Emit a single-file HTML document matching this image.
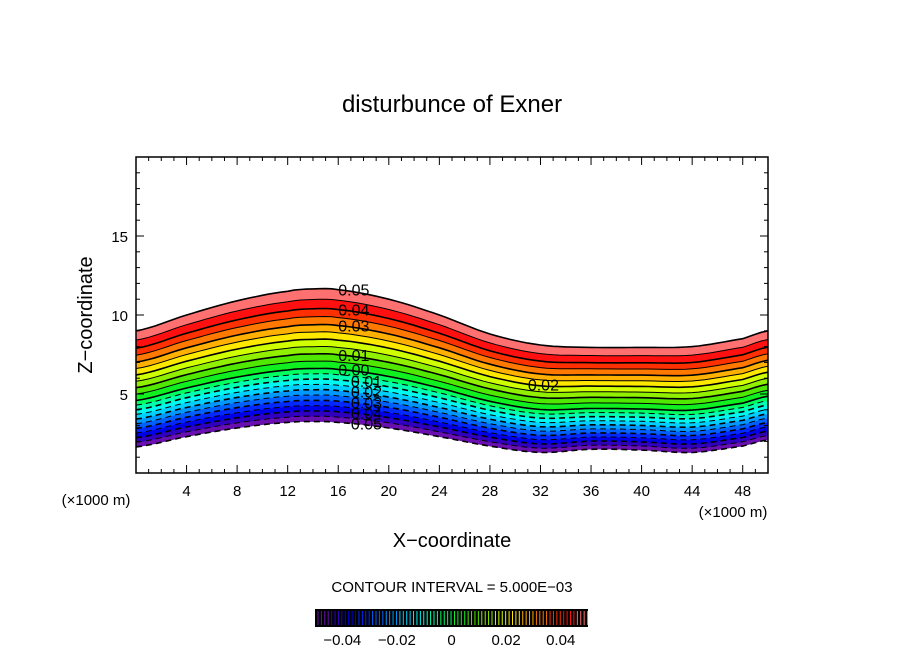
<!DOCTYPE html>
<html><head><meta charset="utf-8"><style>
body{margin:0;background:#fff}
svg text{font-family:"Liberation Sans",sans-serif;fill:#000}
</style></head><body>
<svg id="c" width="904" height="654" viewBox="0 0 904 654">
<text x="452" y="112" font-size="24" text-anchor="middle">disturbunce of Exner</text>
<g id="plot"></g>
<text transform="translate(92,315) rotate(-90)" font-size="20" text-anchor="middle">Z−coordinate</text>
<text x="452" y="547" font-size="20" text-anchor="middle">X−coordinate</text>
<text x="96" y="505" font-size="15" text-anchor="middle">(×1000 m)</text>
<text x="733" y="517" font-size="15" text-anchor="middle">(×1000 m)</text>
<text x="452" y="592" font-size="15" text-anchor="middle">CONTOUR INTERVAL = 5.000E−03</text>
<g id="cbar"></g>
</svg>
<script>
const xs=[0,4,8,12,14,16,20,24,28,32,36,40,44,48,50];
const topZ=[9.0,10.0,10.9,11.5,11.65,11.6,11.0,10.0,8.8,8.1,7.95,7.95,8.0,8.5,9.0];
const botZ=[1.65,2.3,2.85,3.2,3.25,3.2,2.85,2.3,1.7,1.3,1.5,1.45,1.3,1.7,2.1];
const levels=[];for(let i=0;i<=20;i++)levels.push(Math.round((-0.05+i*0.005)*1000)/1000);
// relative height of each level within the layer (0 = bottom, 1 = top)
const levelFrac=[0,0.04,0.08,0.12,0.16,0.2,0.24,0.28,0.32,0.36,0.40,0.455,0.51,0.565,0.62,0.675,0.73,0.79,0.85,0.92,1];
const bandColors=["#6a10b0","#3000c0","#0000e8","#0028ff","#0060ff","#0098ff","#00d0ff","#00f8f0","#00ffb0","#00ff60","#10f020","#50e800","#90f000","#d0ff00","#ffe800","#ffb000","#ff7800","#ff3000","#ff1010","#ff7070"];
const xTicks=[4,8,12,16,20,24,28,32,36,40,44,48];
const yTicks=[5,10,15];
const cbTicks=[-0.04,-0.02,0,0.02,0.04];
const cbTickLabels=["−0.04","−0.02","0","0.02","0.04"];
const labelsList=[["0.05",0.05,16],["0.04",0.04,16],["0.03",0.03,16],["0.01",0.01,16],["0.00",0.0,16],["0.01",-0.01,17],["0.02",-0.02,17],["0.03",-0.03,17],["0.04",-0.04,17],["0.05",-0.05,17],["0.02",0.02,31]];
const X0=136,X1=768,Y0=473,Y1=157;
const sx=x=>X0+(X1-X0)*x/50, sy=z=>Y0-(Y0-Y1)*z/20;
const NS="http://www.w3.org/2000/svg";
function mk(t,a,p){const e=document.createElementNS(NS,t);for(const k in a)e.setAttribute(k,a[k]);p.appendChild(e);return e;}
function interp(arr,x){for(let i=0;i<xs.length-1;i++){if(x<=xs[i+1]){const t=(x-xs[i])/(xs[i+1]-xs[i]);const a0=arr[Math.max(i-1,0)],a1=arr[i],a2=arr[i+1],a3=arr[Math.min(i+2,arr.length-1)];const t2=t*t,t3=t2*t;return 0.5*((2*a1)+(-a0+a2)*t+(2*a0-5*a1+4*a2-a3)*t2+(-a0+3*a1-3*a2+a3)*t3);}}return arr[arr.length-1];}
function fracOf(v){const i=levels.findIndex(l=>Math.abs(l-v)<1e-9);if(i>=0)return levelFrac[i];const k=Math.max(0,Math.min(19,Math.floor((v+0.05)/0.005)));const t=(v-levels[k])/0.005;return levelFrac[k]+(levelFrac[k+1]-levelFrac[k])*t;}
function zAt(v,x){const f=fracOf(v);const b=interp(botZ,x),t=interp(topZ,x);return b+(t-b)*f;}
function pts(v,rev){const p=[];for(let i=0;i<=100;i++){const x=i*0.5;p.push(sx(x).toFixed(1)+","+sy(zAt(v,x)).toFixed(1));}return rev?p.reverse():p;}
const plot=document.getElementById('plot');
for(let i=0;i<levels.length-1;i++){
  const e=mk('polygon',{points:pts(levels[i]).concat(pts(levels[i+1],true)).join(' '),fill:bandColors[i],stroke:bandColors[i],'stroke-width':0.5},plot);
  
  
}
levels.forEach((v,i)=>{
  const a={points:pts(v).join(' '),fill:'none',stroke:'#000','stroke-width':(i%2==0)?1.6:1};
  if(v<0)a['stroke-dasharray']='6,4';
  const e=mk('polyline',a,plot);
  
  
});
labelsList.forEach(l=>{
  const x=sx(l[2]),y=sy(zAt(l[1],l[2]));
  const t=mk('text',{x:x,y:y+6,'font-size':16},plot);t.textContent=l[0];
  
  
});
const fr=mk('rect',{x:X0,y:Y1,width:X1-X0,height:Y0-Y1,fill:'none',stroke:'#000','stroke-width':1.5},plot);


for(let x=1;x<50;x++){const L=x%4==0?8:4;mk('line',{x1:sx(x),x2:sx(x),y1:Y0,y2:Y0-L,stroke:'#000'},plot);mk('line',{x1:sx(x),x2:sx(x),y1:Y1,y2:Y1+L,stroke:'#000'},plot);}
for(let z=1;z<20;z++){const L=z%5==0?8:4;mk('line',{x1:X0,x2:X0+L,y1:sy(z),y2:sy(z),stroke:'#000'},plot);mk('line',{x1:X1,x2:X1-L,y1:sy(z),y2:sy(z),stroke:'#000'},plot);}
xTicks.forEach(v=>{const t=mk('text',{x:sx(v),y:Y0+23,'font-size':15,'text-anchor':'middle'},plot);t.textContent=v;
  
  });
yTicks.forEach(v=>{const t=mk('text',{x:X0-8,y:sy(v)+6,'font-size':15,'text-anchor':'end'},plot);t.textContent=v;
  
  });
const cb=document.getElementById('cbar');
const CX0=315,CX1=588,cx=v=>CX0+(CX1-CX0)*(v+0.05)/0.1;
const bg=mk('rect',{x:CX0,y:609,width:CX1-CX0,height:18,fill:'#000'},cb);


for(let i=0;i<bandColors.length;i++){for(let k=0;k<4;k++){const x=cx(levels[i])+3+k*3.4;mk('line',{x1:x,x2:x,y1:611,y2:625,stroke:bandColors[i],'stroke-width':1},cb);}}
cbTicks.forEach((v,i)=>{const t=mk('text',{x:cx(v),y:645,'font-size':15,'text-anchor':'middle'},cb);t.textContent=cbTickLabels[i];
  
  });
</script>
</body></html>
